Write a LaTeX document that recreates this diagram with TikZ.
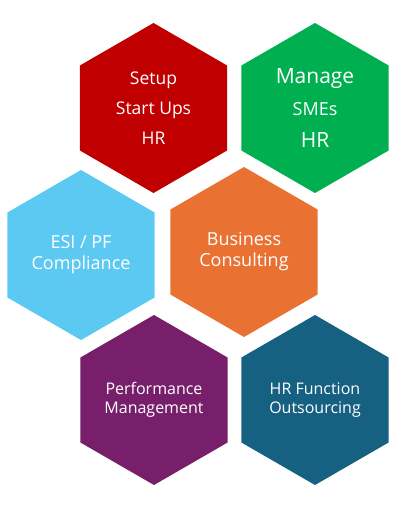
\documentclass[tikz,border=0pt]{standalone}
\usepackage{fontspec}
\setmainfont{Open Sans}
\usetikzlibrary{shapes.geometric}
\definecolor{hexred}{HTML}{C00000}
\definecolor{hexgreen}{HTML}{00B050}
\definecolor{hexblue}{HTML}{5CC9F2}
\definecolor{hexorange}{HTML}{E97132}
\definecolor{hexpurple}{HTML}{771F6A}
\definecolor{hexteal}{HTML}{166082}
\tikzset{
  hexa/.style={regular polygon, regular polygon sides=6, shape border rotate=30,
    minimum size=170pt, inner sep=0pt, text=white, align=center},
  midtext/.style={font=\fontsize{18}{21}\selectfont},
  lowtext/.style={font=\fontsize{16}{19.5}\selectfont},
}
\begin{document}
\begin{tikzpicture}[x=1pt,y=-1pt]
\useasboundingbox (0,0) rectangle (400,508);
% top row
\node[hexa, fill=hexred, font=\fontsize{17.5}{30}\selectfont] (setup) at (153.5,108) {Setup\\Start Ups\\HR};
\node[hexa, fill=hexgreen, font=\fontsize{21}{32}\selectfont] (manage) at (315,108)
  {Manage\\{\fontsize{18}{32}\selectfont SMEs}\\HR};
% middle row
\node[hexa, fill=hexblue, midtext] (esi) at (81,255) {ESI / PF\\Compliance};
\node[hexa, fill=hexorange, midtext] (business) at (244,252) {Business\\Consulting};
% bottom row
\node[hexa, fill=hexpurple, lowtext] (performance) at (154,400) {Performance\\Management};
\node[hexa, fill=hexteal, lowtext] (outsourcing) at (315,400) {HR Function\\Outsourcing};
\end{tikzpicture}
\end{document}
